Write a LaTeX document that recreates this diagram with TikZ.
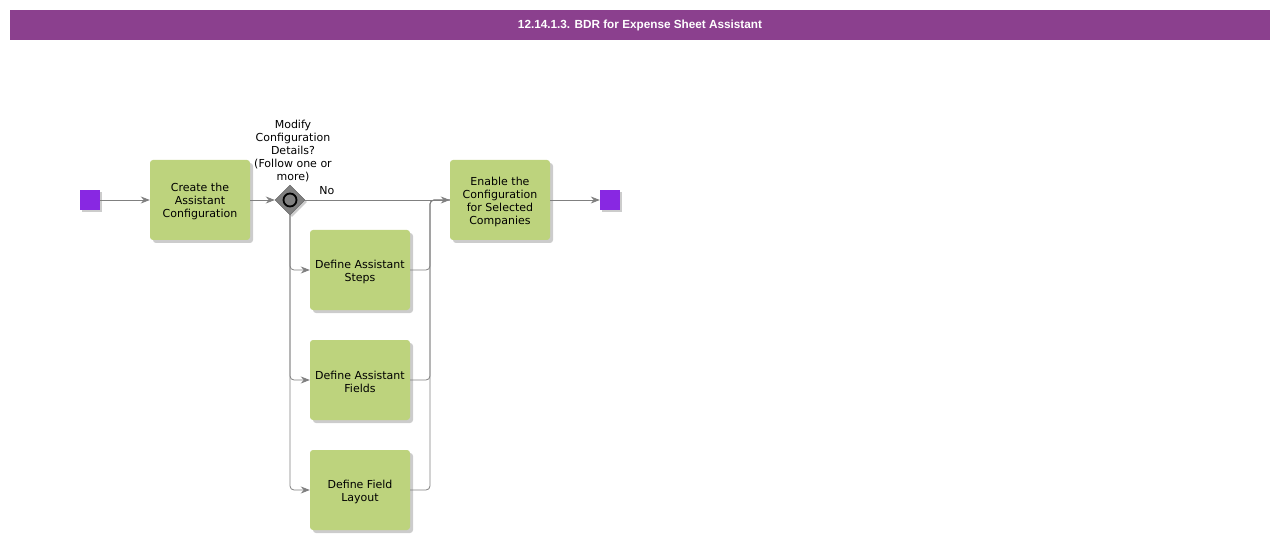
\documentclass[tikz,border=0pt]{standalone}
\usepackage{fontspec}
\setmainfont{DejaVu Sans}
\newfontfamily\titlefont{Liberation Sans}
\usetikzlibrary{shapes.geometric,arrows.meta,shadows}
\definecolor{titlebar}{RGB}{139,64,142}
\definecolor{taskgreen}{RGB}{189,211,125}
\definecolor{evpurple}{RGB}{136,40,226}
\definecolor{linegray}{RGB}{128,128,128}
\tikzset{
  task/.style={rectangle, rounded corners=3pt, fill=taskgreen, minimum width=100pt, minimum height=80pt,
    align=center, font=\fontsize{11}{13}\selectfont, inner sep=2pt,
    drop shadow={shadow xshift=3pt, shadow yshift=-3pt, opacity=0.2, fill=black}},
  event/.style={rectangle, fill=evpurple, minimum size=20pt, inner sep=0pt,
    drop shadow={shadow xshift=2pt, shadow yshift=-2pt, opacity=0.2, fill=black}},
  gate/.style={diamond, fill=linegray, draw=linegray!70!black, minimum size=30pt, inner sep=0pt,
    drop shadow={shadow xshift=2pt, shadow yshift=-2pt, opacity=0.2, fill=black}},
  flow/.style={draw=linegray, line width=0.8pt, -{Stealth[length=9pt,width=7pt]}},
  plainflow/.style={draw=linegray, line width=0.8pt},
  lbl/.style={font=\fontsize{11}{13}\selectfont, align=center, inner sep=0pt}
}
\begin{document}
\begin{tikzpicture}[x=1pt,y=-1pt]
\useasboundingbox (0,0) rectangle (1280,540);
\node[fill=titlebar, minimum width=1260pt, minimum height=30pt, inner sep=0pt, text=white,
  font=\titlefont\bfseries\fontsize{11.75}{14}\selectfont] (title) at (640,25) {12.14.1.3. BDR for Expense Sheet Assistant};

\node[event] (start) at (90,200) {};
\node[task] (create) at (200,200) {\rule{0pt}{12pt}Create the\\Assistant\\Configuration};
\node[gate] (gw) at (290,200) {};
\node[circle, draw=black, line width=1.8pt, minimum size=13pt, inner sep=0pt] (gwc) at (gw.center) {};
\node[lbl] (gwlabel) at (293,151) {Modify\\Configuration\\Details?\\(Follow one or\\more)};
\node[task] (enable) at (500,200) {\rule{0pt}{12pt}Enable the\\Configuration\\for Selected\\Companies};
\node[event] (end) at (610,200) {};
\node[task] (steps) at (360,270) {\rule{0pt}{12pt}Define Assistant\\Steps};
\node[task] (fields) at (360,380) {\rule{0pt}{12pt}Define Assistant\\Fields};
\node[task] (layout) at (360,490) {\rule{0pt}{12pt}Define Field\\Layout};
\coordinate (join) at (430,200);

\draw[flow] (start) -- (create);
\draw[flow] (create) -- (gw);
\draw[flow] (gw.east) -- node[lbl, pos=0.15, above=5pt] (no) {No} (enable.west);
\draw[flow, rounded corners=4pt] (gw.south) |- (steps.west);
\draw[flow, rounded corners=4pt] (gw.south) |- (fields.west);
\draw[flow, rounded corners=4pt] (gw.south) |- (layout.west);
\draw[plainflow, rounded corners=4pt] (steps.east) -| (join) -- (enable.west);
\draw[plainflow, rounded corners=4pt] (fields.east) -| (join) -- (enable.west);
\draw[plainflow, rounded corners=4pt] (layout.east) -| (join) -- (enable.west);
\draw[flow] (enable) -- (end);
\end{tikzpicture}
\end{document}
